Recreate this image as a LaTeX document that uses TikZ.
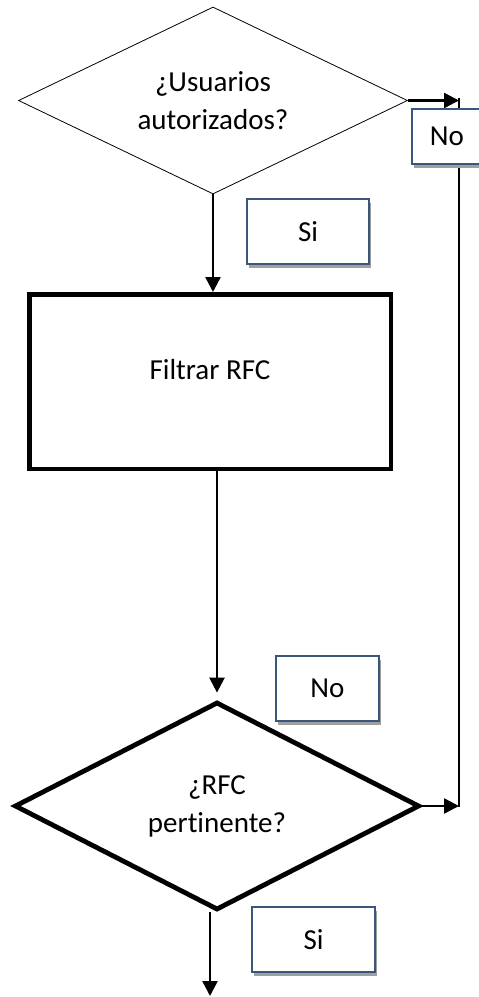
\documentclass[tikz,border=0pt]{standalone}
\usepackage{fontspec}
\setmainfont{Carlito}[Ligatures=NoCommon]
\usetikzlibrary{positioning, arrows.meta, shapes.geometric, shadows}
\usepackage{xcolor}
\definecolor{tagline}{RGB}{60,85,125}
\tikzset{
  decision/.style={draw, diamond, aspect=2, inner sep=0pt, align=center},
  proc/.style={draw, line width=4.5pt, minimum width=361.5pt, minimum height=174.5pt},
  tag/.style={draw=tagline, line width=1.3pt, fill=white, minimum height=65pt,
    drop shadow={shadow xshift=1.5pt, shadow yshift=-3.5pt, fill=gray!75, opacity=1}},
  arr/.style={-{Triangle[length=15pt, width=15pt]}, line width=2.5pt},
  wire/.style={line width=1.5pt}
}

\begin{document}
\begin{tikzpicture}[x=1pt, y=-1pt, font=\fontsize{29}{38}\selectfont]
\useasboundingbox (0,0) rectangle (479,997);
\clip (0,0) rectangle (479,997);
% main column
\node[decision, line width=0.8pt, minimum width=389pt, minimum height=187pt] (autor) at (213,100.5) {¿Usuarios\\autorizados?};
\node[proc, label={[yshift=11.5pt]center:Filtrar RFC}] (filtro) at (210,381.5) {};
\node[decision, line width=4.8pt, minimum width=405pt, minimum height=208pt] (pert) at (217,806) {¿RFC\\pertinente?};
\coordinate (esq1) at (459,100.5);
\coordinate (esq2) at (459,806);
\coordinate (fin) at (210,996);
% connectors
\draw[arr] (autor.south) -- (autor.south |- filtro.north);
\draw[arr, shorten >=7pt] (pert.north |- filtro.south) -- (pert.north);
\draw[arr] (pert.south -| fin) -- (fin);
\draw[arr] (autor.east) -- (esq1);
\draw[arr] (pert.east) -- (esq2);
\draw[wire] ([yshift=3pt]esq1) -- ([yshift=-1pt]esq2);
% answer tags
\node[tag, minimum width=70pt, minimum height=55pt] (no1) at (447,136.5) {No};
\node[tag, minimum width=122pt] (si1) at (308,231.5) {Si};
\node[tag, minimum width=103pt] (no2) at (327.5,688.5) {No};
\node[tag, minimum width=123pt] (si2) at (313.5,939.5) {Si};
\end{tikzpicture}
\end{document}
